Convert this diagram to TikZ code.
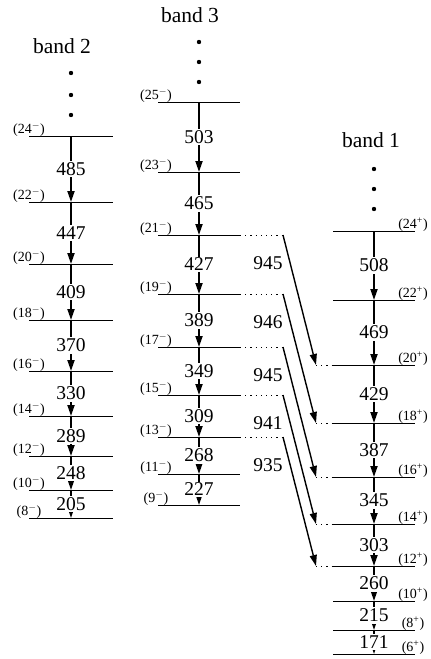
\documentclass[tikz,border=0pt]{standalone}
\usepackage{fontspec}
\setmainfont{Liberation Serif}
\usetikzlibrary{arrows.meta}
\begin{document}
\begin{tikzpicture}[x=1pt,y=-1pt,
  lvl/.style={line width=0.7pt},
  tr/.style={line width=1.8pt,-{Triangle[length=11pt,width=7pt]}},
  xtr/.style={line width=1.4pt,-{Triangle[length=11pt,width=7pt]}},
  ext/.style={line width=0.9pt,dash pattern=on 1.2pt off 4pt},
  elab/.style={fill=white,inner sep=1.5pt,font=\fontsize{19.5}{20}\selectfont},
  xlab/.style={inner sep=0pt,font=\fontsize{19.5}{20}\selectfont},
  spinlab/.style={anchor=base,inner sep=0pt,font=\fontsize{14}{14}\selectfont},
  bandtitle/.style={anchor=base,inner sep=0pt,font=\fontsize{21.5}{22}\selectfont},
  vdot/.style={circle,fill,inner sep=0pt,minimum size=4.4pt}]
\useasboundingbox (0,0) rectangle (431,659);
\def\mn{\textsuperscript{$-$}}
% ---- band 2 ----
\node[bandtitle] (t2) at (62,53) {band 2};
\foreach \k/\yy in {1/73,2/95,3/115} \node[vdot] (d2\k) at (71,\yy) {};
\foreach \s/\yy in {24/136,22/202,20/264,18/320,16/371,14/416,12/456,10/490,8/518}{
  \coordinate (b2-\s-l) at (29,\yy);
  \coordinate (b2-\s) at (71,\yy);
  \coordinate (b2-\s-r) at (113,\yy);
  \draw[lvl] (b2-\s-l) -- (b2-\s-r);
  \node[spinlab] (b2-\s-lab) at (29,\yy-2.5) {(\s\mn)};
}
\foreach \a/\b/\e in {24/22/485,22/20/447,20/18/409,18/16/370,16/14/330,14/12/289,12/10/248,10/8/205}
  \draw[tr] (b2-\a) -- node[elab] (g2-\a) {\e} (b2-\b);
% ---- band 3 ----
\node[bandtitle] (t3) at (190,22) {band 3};
\foreach \k/\yy in {1/42,2/62,3/82} \node[vdot] (d3\k) at (199,\yy) {};
\foreach \s/\yy in {25/102,23/172,21/235,19/294,17/347,15/395,13/437,11/474,9/505}{
  \coordinate (b3-\s-l) at (158,\yy);
  \coordinate (b3-\s) at (199,\yy);
  \coordinate (b3-\s-r) at (240,\yy);
  \draw[lvl] (b3-\s-l) -- (b3-\s-r);
  \node[spinlab] (b3-\s-lab) at (156,\yy-2.5) {(\s\mn)};
}
\foreach \a/\b/\e in {25/23/503,23/21/465,21/19/427,19/17/389,17/15/349,15/13/309,13/11/268,11/9/227}
  \draw[tr] (b3-\a) -- node[elab] (g3-\a) {\e} (b3-\b);
% ---- band 1 ----
\node[bandtitle] (t1) at (371,147) {band 1};
\foreach \k/\yy in {1/169,2/189,3/209} \node[vdot] (d1\k) at (374,\yy) {};
\foreach \s/\yy in {24/231,22/300,20/365,18/423,16/477,14/524,12/566,10/601,8/630,6/654}{
  \coordinate (b1-\s-l) at (333,\yy);
  \coordinate (b1-\s) at (374,\yy);
  \coordinate (b1-\s-r) at (415,\yy);
  \draw[lvl] (b1-\s-l) -- (b1-\s-r);
  \node[spinlab] (b1-\s-lab) at (413,\yy-2.5) {(\s\textsuperscript{+})};
}
\foreach \a/\b/\e in {24/22/508,22/20/469,20/18/429,18/16/387,16/14/345,14/12/303,12/10/260,10/8/215,8/6/171}
  \draw[tr] (b1-\a) -- node[elab] (g1-\a) {\e} (b1-\b);
% ---- interband transitions ----
\foreach \a/\b/\e in {21/20/945,19/18/946,17/16/945,15/14/941,13/12/935}{
  \path (b3-\a-r) -- ++(43,0) coordinate (xs-\a);
  \path (b1-\b-l) -- ++(-17,0) coordinate (xe-\b);
  \draw[ext] (b3-\a-r) -- (xs-\a);
  \draw[ext] (xe-\b) -- (b1-\b-l);
  \draw[xtr] (xs-\a) -- node[xlab,pos=0.22,left=7pt] (xl-\a) {\e} (xe-\b);
}
\end{tikzpicture}
\end{document}
